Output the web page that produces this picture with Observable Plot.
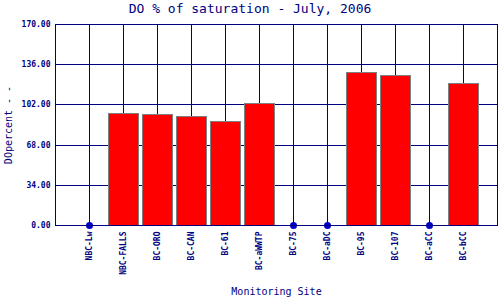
<!DOCTYPE html>
<html><head><meta charset="utf-8">
<script src="https://cdn.jsdelivr.net/npm/d3@7"></script>
<script src="https://cdn.jsdelivr.net/npm/@observablehq/plot@0.6"></script>
<style>
body{margin:0;background:#fff;}
#wrap{width:500px;height:300px;position:relative;}
#title{height:20px;line-height:18px;text-align:center;font-family:"DejaVu Sans Mono",monospace;font-size:13px;color:#000080;}
</style>
</head><body>
<div id="wrap"><div id="title">DO % of saturation - July, 2006</div><div id="chart"></div></div>
<script>
const sites = ["NBC-Lw","NBC-FALLS","BC-ORO","BC-CAN","BC-61","BC-aWWTP","BC-75","BC-aDC","BC-95","BC-107","BC-aCC","BC-bCC"];
const values = [null, 94.5, 93.6, 91.9, 87.7, 102.9, null, null, 129.1, 126.6, null, 119.8];
const yTicks = [0, 34, 68, 102, 136, 170];

const data = sites.map((s, i) => ({site: s, value: values[i]}));
const present = data.filter(d => d.value != null);
const missing = data.filter(d => d.value == null);
const navy = "#000080";
const font = "DejaVu Sans Mono, monospace";

const chart = Plot.plot({
  width: 500, height: 280,
  marginTop: 4, marginBottom: 75, marginLeft: 55, marginRight: 3,
  style: {fontFamily: font, background: "#fff", color: navy},
  x: {type: "band", domain: sites, paddingInner: 0.1176, paddingOuter: 0.5588},
  y: {domain: [0, 170]},
  marks: [
    Plot.ruleY(yTicks, {stroke: navy, strokeWidth: 1, shapeRendering: "crispEdges"}),
    Plot.ruleX(sites, {x: d => d, stroke: navy, strokeWidth: 1, shapeRendering: "crispEdges"}),
    Plot.barY(present, {x: "site", y: "value", fill: "#ff0000", stroke: "#808080", strokeWidth: 1, shapeRendering: "crispEdges"}),
    Plot.dot(missing, {x: "site", y: () => 0, fill: "#0000cc", stroke: "none", r: 3.5}),
    Plot.frame({stroke: navy, strokeWidth: 1, shapeRendering: "crispEdges"}),
    Plot.axisY(yTicks, {tickFormat: d3.format(".2f"), tickSize: 0, tickPadding: 5, fontSize: 8, fontWeight: "bold", fill: navy, label: null}),
    Plot.axisX({tickRotate: -90, tickSize: 0, tickPadding: 6, fontSize: 8, fontWeight: "bold", fill: navy, label: null}),
    Plot.text(["DOpercent - -"], {frameAnchor: "left", textAnchor: "middle", dx: -47, rotate: -90, fontSize: 10, fill: navy, fontFamily: font}),
    Plot.text(["Monitoring Site"], {frameAnchor: "bottom", textAnchor: "middle", dy: 69, fontSize: 10, fill: navy, fontFamily: font})
  ]
});
document.getElementById("chart").appendChild(chart);
</script>
</body></html>
